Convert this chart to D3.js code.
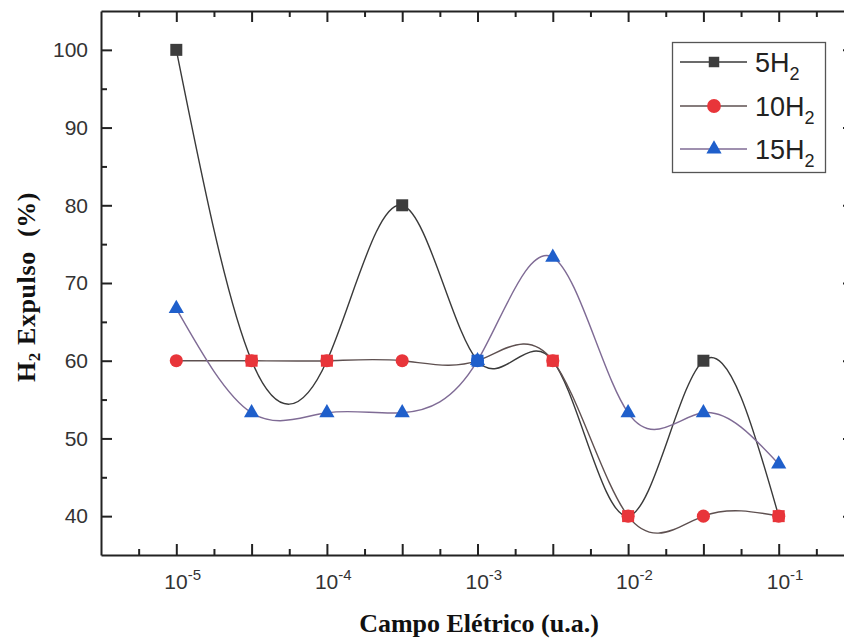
<!DOCTYPE html>
<html>
<head>
<meta charset="utf-8">
<script src="https://cdn.jsdelivr.net/npm/d3@7"></script>
<style>
  body { margin: 0; background: #fff; }
  svg { display: block; }
</style>
</head>
<body>
<svg id="chart" width="844" height="642"></svg>
<script>
// Electric field strengths (a.u.) and percentage of H2 expelled per cluster size
const fieldValues = [1e-5, 3.162e-5, 1e-4, 3.162e-4, 1e-3, 3.162e-3, 1e-2, 3.162e-2, 1e-1];
const expelled5H2 = [100, 60, 60, 80, 60, 60, 40, 60, 40];
const expelled10H2 = [60, 60, 60, 60, 60, 60, 40, 40, 40];
const expelled15H2 = [66.7, 53.3, 53.3, 53.3, 60, 73.3, 53.3, 53.3, 46.7];
const seriesPrefixes = ["5", "10", "15"];

// Axis ticks
const xLabelExponents = [-5, -4, -3, -2, -1];
const xMajorTicks = [1e-5, 3.162e-5, 1e-4, 3.162e-4, 1e-3, 3.162e-3, 1e-2, 3.162e-2, 1e-1];
const xMinorTicks = [5.623e-6, 1.778e-5, 5.623e-5, 1.778e-4, 5.623e-4, 1.778e-3, 5.623e-3, 1.778e-2, 5.623e-2, 1.778e-1];
const yMajorTicks = [40, 50, 60, 70, 80, 90, 100];
const yMinorTicks = [45, 55, 65, 75, 85, 95];

const svg = d3.select("#chart");
const plotLeft = 101, plotRight = 854, plotTop = 11, plotBottom = 555;

const x = d3.scaleLog().domain([3.162e-6, 0.3162]).range([plotLeft, plotRight]);
const y = d3.scaleLinear().domain([35, 105]).range([plotBottom, plotTop]);

const styles = [
  { symbol: d3.symbolSquare, size: 144, fill: "#3d3d3d", line: "#3a3a3a", legendSize: 110 },
  { symbol: d3.symbolCircle, size: 135, fill: "#e8353a", line: "#5e5050", legendSize: 150 },
  { symbol: d3.symbolTriangle, size: 100, fill: "#1f5fcb", line: "#7f6b95", legendSize: 100 }
];
const allSeries = [expelled5H2, expelled10H2, expelled15H2];

const axisColor = "#222";
const tickFont = "'Liberation Sans', Arial, sans-serif";
const titleFont = "'Liberation Serif', 'Times New Roman', serif";

// ---- axes ----
function styleAxis(g) {
  g.select(".domain").attr("stroke", axisColor).attr("stroke-width", 2);
  g.selectAll(".tick line").attr("stroke", axisColor).attr("stroke-width", 2);
}

// left: major ticks with labels, inward
const gLeft = svg.append("g").attr("transform", `translate(${plotLeft},0)`)
  .call(d3.axisLeft(y).tickValues(yMajorTicks).tickSizeInner(-11).tickSizeOuter(0).tickPadding(13));
styleAxis(gLeft);
gLeft.selectAll(".tick text")
  .attr("font-family", tickFont).attr("font-size", 21).attr("fill", "#333");
svg.append("g").attr("transform", `translate(${plotLeft},0)`)
  .call(d3.axisLeft(y).tickValues(yMinorTicks).tickSize(-6).tickFormat(""))
  .call(styleAxis).select(".domain").remove();

// right: ticks only
svg.append("g").attr("transform", `translate(${plotRight},0)`)
  .call(d3.axisRight(y).tickValues(yMajorTicks).tickSizeInner(-11).tickSizeOuter(0).tickFormat(""))
  .call(styleAxis);
svg.append("g").attr("transform", `translate(${plotRight},0)`)
  .call(d3.axisRight(y).tickValues(yMinorTicks).tickSize(-6).tickFormat(""))
  .call(styleAxis).select(".domain").remove();

// bottom
const gBottom = svg.append("g").attr("transform", `translate(0,${plotBottom})`)
  .call(d3.axisBottom(x).tickValues(xMajorTicks).tickSizeInner(-11).tickSizeOuter(0).tickFormat(""));
styleAxis(gBottom);
svg.append("g").attr("transform", `translate(0,${plotBottom})`)
  .call(d3.axisBottom(x).tickValues(xMinorTicks).tickSize(-6).tickFormat(""))
  .call(styleAxis).select(".domain").remove();

// top
svg.append("g").attr("transform", `translate(0,${plotTop})`)
  .call(d3.axisTop(x).tickValues(xMajorTicks).tickSizeInner(-11).tickSizeOuter(0).tickFormat(""))
  .call(styleAxis);
svg.append("g").attr("transform", `translate(0,${plotTop})`)
  .call(d3.axisTop(x).tickValues(xMinorTicks).tickSize(-6).tickFormat(""))
  .call(styleAxis).select(".domain").remove();

// decade labels 10^n
const xLabels = svg.append("g").attr("font-family", tickFont).attr("fill", "#333");
xLabelExponents.forEach(e => {
  const t = xLabels.append("text")
    .attr("x", x(Math.pow(10, e)) - 12)
    .attr("y", plotBottom + 34)
    .attr("font-size", 21);
  t.append("tspan").text("10");
  t.append("tspan").attr("dy", -9).attr("font-size", 15).text(String(e));
});

// axis titles
svg.append("text")
  .attr("x", 479).attr("y", 632)
  .attr("text-anchor", "middle")
  .attr("font-family", titleFont).attr("font-weight", "bold").attr("font-size", 26)
  .attr("fill", "#111")
  .text("Campo Elétrico (u.a.)");

const yTitle = svg.append("text")
  .attr("transform", "translate(35,287) rotate(-90)")
  .attr("text-anchor", "middle")
  .attr("font-family", titleFont).attr("font-weight", "bold").attr("font-size", 26)
  .attr("letter-spacing", 0.6)
  .attr("fill", "#111");
yTitle.append("tspan").text("H");
yTitle.append("tspan").attr("font-size", 17).attr("dy", 5).text("2");
yTitle.append("tspan").attr("dy", -5).text(" Expulso\u00a0\u00a0(%)");

// ---- data ----
const plot = svg.append("g");
const line = d3.line()
  .x((d, i) => x(fieldValues[i]))
  .y(d => y(d))
  .curve(d3.curveNatural);

allSeries.forEach((vals, s) => {
  plot.append("path")
    .datum(vals)
    .attr("d", line)
    .attr("fill", "none")
    .attr("stroke", styles[s].line)
    .attr("stroke-width", 1.4);
});

// markers; where a later series lands on the same point, its colour shows through
allSeries.forEach((vals, s) => {
  plot.selectAll(null)
    .data(vals)
    .join("path")
    .attr("transform", (d, i) => `translate(${x(fieldValues[i])},${y(d)})`)
    .attr("d", d3.symbol().type(styles[s].symbol).size(styles[s].size))
    .attr("fill", (d, i) => {
      let c = styles[s].fill;
      for (let k = s + 1; k < allSeries.length; k++) {
        if (allSeries[k][i] === d) c = styles[k].fill;
      }
      return c;
    });
});

// ---- legend ----
const legend = svg.append("g");
legend.append("rect")
  .attr("x", 672.5).attr("y", 42.5).attr("width", 153).attr("height", 130)
  .attr("fill", "#fff").attr("stroke", "#555").attr("stroke-width", 1.3);
const rowY = [62, 106, 149];
seriesPrefixes.forEach((p, s) => {
  const g = legend.append("g");
  g.append("line")
    .attr("x1", 680).attr("x2", 747).attr("y1", rowY[s]).attr("y2", rowY[s])
    .attr("stroke", styles[s].line).attr("stroke-width", 1.4);
  g.append("path")
    .attr("transform", `translate(714,${rowY[s]})`)
    .attr("d", d3.symbol().type(styles[s].symbol).size(styles[s].legendSize))
    .attr("fill", styles[s].fill);
  const t = g.append("text")
    .attr("x", 755).attr("y", rowY[s] + 10)
    .attr("font-family", tickFont).attr("font-size", 27).attr("fill", "#222");
  t.append("tspan").text(p + "H");
  t.append("tspan").attr("font-size", 18).attr("dy", 8).text("2");
});
</script>
</body>
</html>
